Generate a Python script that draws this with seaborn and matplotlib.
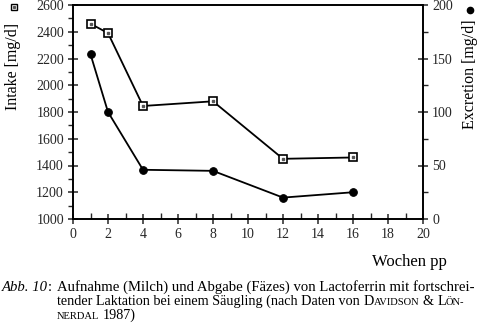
import matplotlib
matplotlib.use("Agg")
import matplotlib.pyplot as plt
from matplotlib.ticker import MultipleLocator
import seaborn as sns
import pandas as pd

# Lactoferrin intake (milk) and excretion (faeces) over weeks post partum
weeks = [1, 2, 4, 8, 12, 16]
intake = [2460, 2390, 1845, 1880, 1450, 1460]       # mg/d, left axis
excretion = [154, 100, 46, 45, 20, 25]               # mg/d, right axis

x_ticks = [0, 2, 4, 6, 8, 10, 12, 14, 16, 18, 20]
left_ticks = [1000, 1200, 1400, 1600, 1800, 2000, 2200, 2400, 2600]
right_ticks = [0, 50, 100, 150, 200]

sns.set_theme(style="white")
SERIF = ["Liberation Serif", "DejaVu Serif"]
plt.rcParams["font.family"] = SERIF
plt.rcParams["text.color"] = "black"

W, H = 480, 332
fig = plt.figure(figsize=(W / 100, H / 100), dpi=100)
ax = fig.add_axes([73 / W, 1 - 219 / H, (423 - 73) / W, (219 - 5) / H])
ax2 = ax.twinx()

df = pd.DataFrame({"week": weeks, "intake": intake, "excretion": excretion})

sns.lineplot(data=df, x="week", y="intake", ax=ax, color="black", lw=1.3,
             marker="s", markersize=6, markerfacecolor="white",
             markeredgecolor="black", markeredgewidth=1.2)
ax.plot(weeks, intake, ls="none", marker="s", markersize=1.6,
        color="#555555")
sns.lineplot(data=df, x="week", y="excretion", ax=ax2, color="black", lw=1.3,
             marker="o", markersize=5.5, markerfacecolor="black",
             markeredgecolor="black")

ax.set_xlim(0, 20)
ax.set_ylim(1000, 2600)
ax2.set_ylim(0, 200)
ax.set_xticks(x_ticks)
ax.set_yticks(left_ticks)
ax2.set_yticks(right_ticks)
ax.xaxis.set_minor_locator(MultipleLocator(1))
ax.yaxis.set_minor_locator(MultipleLocator(100))
ax2.yaxis.set_minor_locator(MultipleLocator(25))

ax.set_xlabel("")
ax.set_ylabel("")
ax2.set_ylabel("")
for a in (ax, ax2):
    for s in a.spines.values():
        s.set_visible(True)
        s.set_color("black")
        s.set_linewidth(1.2)
    a.grid(False)

ax.tick_params(axis="x", which="major", direction="inout", length=7,
               width=1.1, labelsize=10, pad=3, bottom=True)
ax.tick_params(axis="x", which="minor", direction="in", length=4,
               width=1.0, bottom=True)
ax.tick_params(axis="y", which="major", direction="inout", length=7,
               width=1.1, labelsize=10, pad=3, left=True)
ax.tick_params(axis="y", which="minor", direction="out", length=3.5,
               width=1.0, left=True)
ax2.tick_params(axis="y", which="major", direction="inout", length=7,
                width=1.1, labelsize=10, pad=3, right=True)
ax2.tick_params(axis="y", which="minor", direction="out", length=3.5,
                width=1.0, right=True)

# Axis titles with their series symbols
fig.text(13 / W, 1 - 66 / H, "Intake [mg/d]", rotation=90, fontsize=11.5,
         ha="center", va="center")
fig.text(470 / W, 1 - 74 / H, "Excretion [mg/d]", rotation=90, fontsize=11.5,
         ha="center", va="center")
fig.add_artist(plt.Line2D([13.5 / W], [1 - 7 / H], marker="s", markersize=5,
                          markerfacecolor="white", markeredgecolor="black",
                          markeredgewidth=1.0, transform=fig.transFigure))
fig.add_artist(plt.Line2D([13.5 / W], [1 - 7 / H], marker="s", markersize=1.3,
                          color="#555555", transform=fig.transFigure))
fig.add_artist(plt.Line2D([470 / W], [1 - 10 / H], marker="o", markersize=4.5,
                          color="black", transform=fig.transFigure))

fig.text(447 / W, 1 - 262 / H, "Wochen pp", fontsize=12, ha="right",
         va="center")

# Caption, set piece by piece so the small capitals line up
renderer = fig.canvas.get_renderer()
CAP = 10.6
CAP2 = 10.2
SC = 7.6


def width_px(s, size, style="normal"):
    t = fig.text(0, 0, s, fontsize=size, style=style)
    w = t.get_window_extent(renderer).width
    t.remove()
    return w


space = width_px("a a", CAP2) - width_px("aa", CAP2)


def run(pieces, x0, baseline):
    x = x0
    for s, size, style, gap in pieces:
        x += gap * space
        t = fig.text(x / W, 1 - baseline / H, s, fontsize=size, style=style,
                     ha="left", va="baseline")
        x += t.get_window_extent(renderer).width


run([("Abb. 10", CAP, "italic", 0),
     (":", CAP, "normal", 0)], 2, 291)
run([("Aufnahme (Milch) und Abgabe (Fäzes) von Lactoferrin mit fortschrei-",
      CAP, "normal", 0)], 57, 291)
run([("tender Laktation bei einem Säugling (nach Daten von", CAP2, "normal", 0),
     ("D", CAP2, "normal", 1), ("AVIDSON", SC, "normal", 0),
     ("&", CAP2, "normal", 1), ("L", CAP2, "normal", 1),
     ("ÖN-", SC, "normal", 0)], 57, 305)
run([("NERDAL", SC, "normal", 0), ("1987)", CAP2, "normal", 1)], 57, 319)

fig.savefig("out.png", dpi=100)
